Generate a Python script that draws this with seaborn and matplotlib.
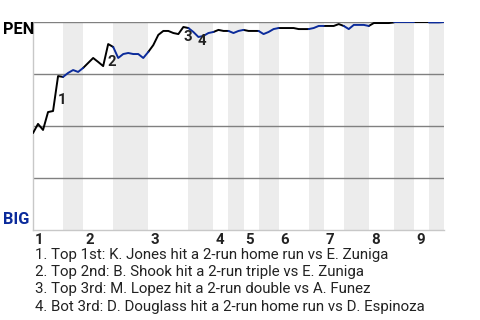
import matplotlib
matplotlib.use("Agg")
import matplotlib.pyplot as plt
import matplotlib.transforms as mtransforms
import numpy as np
import pandas as pd
import seaborn as sns

# ---- data ----
away_team = "PEN"
home_team = "BIG"
# plate appearances per half inning (top 1, bot 1, top 2, ...)
half_pa = [6, 4, 6, 7, 8, 5, 3, 3, 3, 4, 6, 3, 4, 5, 5, 4, 3, 3]
# PEN win probability after each plate appearance (index 0 = game start)
win_prob = [0.466, 0.510, 0.481, 0.567, 0.572, 0.740, 0.736,
            0.755, 0.769, 0.760, 0.779,
            0.803, 0.827, 0.808, 0.788, 0.894, 0.880,
            0.827, 0.846, 0.851, 0.846, 0.846, 0.827, 0.856,
            0.889, 0.938, 0.957, 0.957, 0.947, 0.942, 0.976, 0.971,
            0.952, 0.928, 0.933, 0.947, 0.952,
            0.962, 0.957, 0.957,
            0.947, 0.957, 0.962,
            0.957, 0.957, 0.957,
            0.942, 0.952, 0.966, 0.971,
            0.971, 0.971, 0.971, 0.966, 0.966, 0.966,
            0.971, 0.981, 0.981,
            0.981, 0.981, 0.990, 0.981,
            0.966, 0.986, 0.986, 0.986, 0.981,
            0.995, 0.995, 0.995, 0.995, 0.998,
            0.998, 0.998, 0.998, 0.998,
            0.998, 0.998, 0.998,
            0.998, 0.998, 1.000]
inning_labels = ["1", "2", "3", "4", "5", "6", "7", "8", "9"]
# key plays: PA index where the play ended, label number
event_pa = [5, 15, 30, 33]
event_labels = ["1", "2", "3", "4"]
event_texts = [
    "1. Top 1st: K. Jones hit a 2-run home run vs E. Zuniga",
    "2. Top 2nd: B. Shook hit a 2-run triple vs E. Zuniga",
    "3. Top 3rd: M. Lopez hit a 2-run double vs A. Funez",
    "4. Bot 3rd: D. Douglass hit a 2-run home run vs D. Espinoza",
]

BLUE = "#0b2b9b"
SHADE = "#ececec"

# ---- build segments ----
bounds = np.concatenate([[0], np.cumsum(half_pa)])
rows = []
for h in range(len(half_pa)):
    side = "top" if h % 2 == 0 else "bot"
    for i in range(bounds[h], bounds[h + 1] + 1):
        rows.append({"pa": i, "wp": win_prob[i], "half": h, "side": side})
df = pd.DataFrame(rows)

sns.set_style("white")
plt.rcParams["font.family"] = ["Roboto", "DejaVu Sans"]

fig = plt.figure(figsize=(4.8, 3.2), dpi=100)
ax = fig.add_axes([33 / 480, 1 - 230 / 320, 411 / 480, 208 / 320])

# shaded bottom halves
for h in range(1, len(half_pa), 2):
    ax.axvspan(bounds[h], bounds[h + 1], color=SHADE, lw=0, zorder=0)

for yv in [0.25, 0.5, 0.75, 1.0]:
    ax.axhline(yv, color="#808080", lw=1.0, zorder=1)

sns.lineplot(data=df, x="pa", y="wp", hue="side", units="half", estimator=None,
             palette={"top": "black", "bot": BLUE}, linewidth=1.4, legend=False,
             ax=ax, zorder=3)

ax.set_xlim(0, bounds[-1])
ax.set_ylim(0, 1)
ax.set_xlabel("")
ax.set_ylabel("")
ax.set_yticks([])

for s in ["top", "right"]:
    ax.spines[s].set_visible(False)
for s in ["left", "bottom"]:
    ax.spines[s].set_color("#c8c8c8")
    ax.spines[s].set_linewidth(1.0)

# inning ticks
inning_starts = bounds[::2][:len(inning_labels)]
ax.set_xticks(inning_starts)
ax.set_xticklabels(inning_labels, fontsize=10.8, fontweight="bold", color="#222222", ha="left")
ax.tick_params(axis="x", length=0, pad=2)
off = mtransforms.ScaledTranslation(2 / 100, 0, fig.dpi_scale_trans)
for lab in ax.get_xticklabels():
    lab.set_transform(lab.get_transform() + off)

# team labels
fig.text(3 / 480, 1 - 22 / 320, away_team, fontsize=11.8, fontweight="bold",
         color="black", ha="left", va="top")
fig.text(3 / 480, 1 - 227 / 320, home_team, fontsize=11.8, fontweight="bold",
         color=BLUE, ha="left", va="bottom")

# event markers
for pa, lab in zip(event_pa, event_labels):
    xm = pa - 0.5
    ym = (win_prob[pa - 1] + win_prob[pa]) / 2
    ax.annotate(lab, (xm, ym), xytext=(6.5, -6.5), textcoords="offset pixels",
                ha="center", va="center", fontsize=10.8, fontweight="bold",
                color="#222222", zorder=4)

# event descriptions
for k, t in enumerate(event_texts):
    fig.text(35 / 480, 1 - (254.5 + 17.4 * k) / 320, t, fontsize=10.85,
             color="#222222", ha="left", va="center")

fig.savefig("out.png", dpi=100)
